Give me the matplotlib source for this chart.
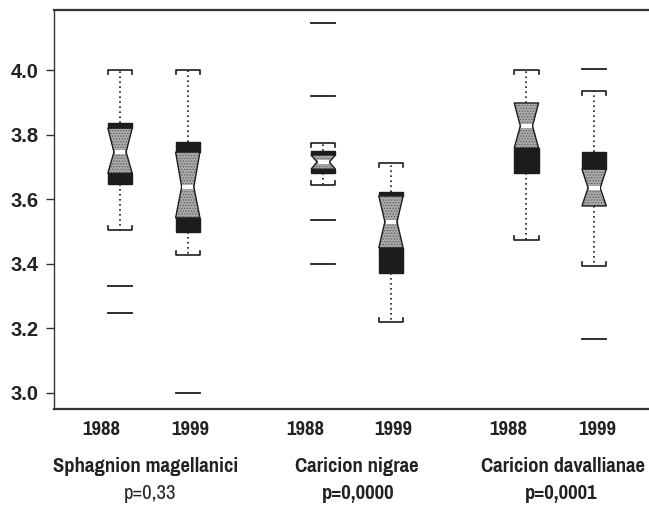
import matplotlib
matplotlib.use("Agg")
import matplotlib.pyplot as plt
from matplotlib.patches import Polygon, Rectangle
from matplotlib import font_manager

# ---- data ----
groups = ["Sphagnion magellanici", "Caricion nigrae", "Caricion davallianae"]
p_values = ["p=0,33", "p=0,0000", "p=0,0001"]
years = ["1988", "1999"]

q1 = [3.647, 3.498, 3.681, 3.372, 3.681, 3.579]
notch_lo = [3.680, 3.542, 3.693, 3.449, 3.758, 3.579]
median = [3.746, 3.638, 3.715, 3.530, 3.827, 3.635]
notch_hi = [3.820, 3.746, 3.737, 3.610, 3.898, 3.693]
q3 = [3.836, 3.777, 3.749, 3.622, 3.898, 3.746]
whisk_lo = [3.505, 3.427, 3.644, 3.220, 3.474, 3.393]
whisk_hi = [4.000, 4.000, 3.774, 3.712, 4.000, 3.935]
outliers = [[3.331, 3.248], [3.000], [4.146, 3.920, 3.536, 3.399], [], [], [4.003, 3.167]]
y_ticks = [3.0, 3.2, 3.4, 3.6, 3.8, 4.0]

# ---- fonts ----
names = {f.name for f in font_manager.fontManager.ttflist}
narrow = "Liberation Sans"
for cand in ["Liberation Sans Narrow", "Arial Narrow", "Pragati Narrow", "PT Sans Narrow",
             "Roboto Condensed", "Archivo Narrow"]:
    if cand in names:
        narrow = cand
        break
fs_lab = 16.2 if narrow != "Liberation Sans" else 13

plt.rcParams["hatch.linewidth"] = 0.6

fig = plt.figure(figsize=(6.49, 5.09), dpi=100)
ax = fig.add_axes([54 / 649, 1 - 409 / 509, 1 - 54 / 649, 399 / 509])

positions = []
for g in range(len(groups)):
    for k in range(len(years)):
        positions.append(1 + 3 * g + k)

w = 0.18     # half box width
wn = 0.09    # half width at the notch
d = 0.013    # cap bracket tick length
black = "#1c1c1c"
grey = "#aaaaaa"

for i, x in enumerate(positions):
    if notch_lo[i] > q1[i]:
        ax.add_patch(Rectangle((x - w, q1[i]), 2 * w, notch_lo[i] - q1[i],
                               facecolor=black, edgecolor=black, lw=1, zorder=3))
    if q3[i] > notch_hi[i]:
        ax.add_patch(Rectangle((x - w, notch_hi[i]), 2 * w, q3[i] - notch_hi[i],
                               facecolor=black, edgecolor=black, lw=1, zorder=3))
    pts = [(x - w, notch_lo[i]), (x - wn, median[i]), (x - w, notch_hi[i]),
           (x + w, notch_hi[i]), (x + wn, median[i]), (x + w, notch_lo[i])]
    ax.add_patch(Polygon(pts, closed=True, facecolor=grey, edgecolor="#5e5e5e",
                         hatch="......", lw=0, zorder=3))
    ax.add_patch(Polygon(pts, closed=True, facecolor="none", edgecolor=black,
                         lw=1.0, zorder=3.5))
    ax.plot([x - wn + 0.01, x + wn - 0.01], [median[i], median[i]],
            color="white", lw=3, zorder=4, solid_capstyle="butt")
    ax.plot([x, x], [q3[i], whisk_hi[i]], color=black, lw=1.2,
            linestyle=(0, (1, 2)), zorder=2)
    ax.plot([x, x], [q1[i], whisk_lo[i]], color=black, lw=1.2,
            linestyle=(0, (1, 2)), zorder=2)
    ax.plot([x - w, x - w, x + w, x + w],
            [whisk_hi[i] - d, whisk_hi[i], whisk_hi[i], whisk_hi[i] - d],
            color=black, lw=1.2, zorder=3)
    ax.plot([x - w, x - w, x + w, x + w],
            [whisk_lo[i] + d, whisk_lo[i], whisk_lo[i], whisk_lo[i] + d],
            color=black, lw=1.2, zorder=3)
    for o in outliers[i]:
        ax.plot([x - w, x + w], [o, o], color=black, lw=1.3, zorder=3)

ax.set_xlim(0.025, 8.81)
ax.set_ylim(2.950, 4.186)
ax.set_xticks([])
ax.set_yticks(y_ticks)
ax.set_yticklabels([f"{v:.1f}" for v in y_ticks], fontfamily="Liberation Sans",
                   fontweight="bold", fontsize=14.5, color="#222222")
ax.tick_params(axis="y", direction="out", length=6, width=1, pad=5, color="#333333")

for s in ["top", "bottom"]:
    ax.spines[s].set_linewidth(1.6)
    ax.spines[s].set_color("#333333")
ax.spines["left"].set_linewidth(1.0)
ax.spines["left"].set_color("#333333")
ax.spines["right"].set_visible(False)

trans = ax.get_xaxis_transform()
year_shift = [-0.27, 0.04]
for i, x in enumerate(positions):
    ax.text(x + year_shift[i % 2], -0.0526, years[i % 2], transform=trans,
            ha="center", va="center", fontfamily=narrow, fontweight="bold",
            fontsize=fs_lab, color="#222222")

name_shift = [-0.12, 0.0, 0.04]
p_shift = [-0.06, 0.02, 0.01]
for g, name in enumerate(groups):
    cx = 1.5 + 3 * g
    ax.text(cx + name_shift[g], -0.143, name, transform=trans, ha="center",
            va="center", fontfamily=narrow, fontweight="bold", fontsize=fs_lab,
            color="#222222")
    ax.text(cx + p_shift[g], -0.213, p_values[g], transform=trans,
            ha="center", va="center", fontfamily=narrow,
            fontweight="normal" if g == 0 else "bold", fontsize=fs_lab,
            color="#222222")

fig.savefig("out.png", dpi=100)
